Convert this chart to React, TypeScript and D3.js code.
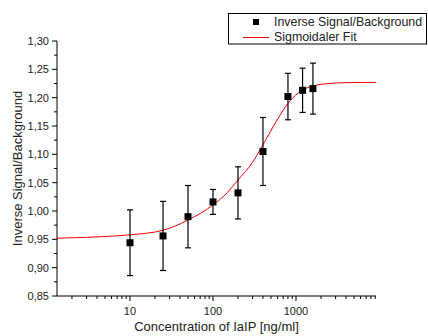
import * as d3 from "d3";

// measured points (concentration in ng/ml)
const conc = [10, 25, 50, 100, 200, 400, 800, 1200, 1600];
const signal = [0.944, 0.956, 0.990, 1.016, 1.032, 1.105, 1.202, 1.213, 1.216];
const errs = [0.058, 0.061, 0.055, 0.022, 0.046, 0.060, 0.041, 0.039, 0.045];

// sigmoidal fit
const fitX = [1.32, 3, 5, 10, 25, 50, 100, 150, 200, 300, 400, 600, 800, 1200, 1600, 2500, 4000, 9200];
const fitY = [0.952, 0.9535, 0.955, 0.958, 0.966, 0.984, 1.0106, 1.033, 1.0547, 1.086, 1.117, 1.162, 1.19, 1.2135, 1.2206, 1.225, 1.2265, 1.227];

const yTicks = [0.85, 0.9, 0.95, 1.0, 1.05, 1.1, 1.15, 1.2, 1.25, 1.3];
const xMajor = [10, 100, 1000];

const W = 428;
const H = 336;
const margin = { left: 57, right: 52, top: 41, bottom: 40 };
const font = "'Liberation Sans', Arial, sans-serif";

export default function App() {
  const x = d3.scaleLog().domain([1.32, 9200]).range([margin.left, W - margin.right]);
  const y = d3.scaleLinear().domain([0.85, 1.3]).range([H - margin.bottom, margin.top]);

  const xMinor = x.ticks().filter((t) => !xMajor.includes(t));
  const yMinor = yTicks.slice(0, -1).map((t) => t + 0.025);
  const fmt = (v: number) => d3.format(".2f")(v).replace(".", ",");

  const fitLine = d3
    .line<number>()
    .x((d) => x(d))
    .y((d, i) => y(fitY[i]))
    .curve(d3.curveMonotoneX);

  const x0 = margin.left;
  const yb = H - margin.bottom;

  return (
    <svg width={W} height={H} style={{ position: "absolute", left: 0, top: 0 }} fontFamily={font}>
      <rect width={W} height={H} fill="#fff" />

      {/* fit curve */}
      <path d={fitLine(fitX) || ""} fill="none" stroke="#ff0000" strokeWidth={1} />

      {/* error bars + points */}
      {conc.map((c, i) => {
        const cx = x(c);
        const t = y(signal[i] + errs[i]);
        const b = y(signal[i] - errs[i]);
        return (
          <g key={i} stroke="#000" strokeWidth={1.2}>
            <line x1={cx} x2={cx} y1={t} y2={b} />
            <line x1={cx - 3} x2={cx + 3} y1={t} y2={t} />
            <line x1={cx - 3} x2={cx + 3} y1={b} y2={b} />
            <rect x={cx - 3.5} y={y(signal[i]) - 3.5} width={7} height={7} fill="#000" stroke="none" />
          </g>
        );
      })}

      {/* y axis */}
      <g stroke="#000" strokeWidth={1}>
        <line x1={x0} x2={x0} y1={y(1.3)} y2={yb} />
        {yTicks.map((t) => (
          <line key={t} x1={x0 - 5} x2={x0} y1={y(t)} y2={y(t)} />
        ))}
        {yMinor.map((t) => (
          <line key={t} x1={x0 - 3} x2={x0} y1={y(t)} y2={y(t)} />
        ))}
      </g>
      {yTicks.map((t) => (
        <text key={t} x={x0 - 8} y={y(t)} dy="0.35em" textAnchor="end" fontSize={11} fill="#222">
          {fmt(t)}
        </text>
      ))}
      <text
        transform={`translate(17,${(margin.top + yb) / 2}) rotate(-90)`}
        textAnchor="middle"
        dy="0.35em"
        fontSize={13}
        fill="#222"
      >
        Inverse Signal/Background
      </text>

      {/* x axis */}
      <g stroke="#000" strokeWidth={1}>
        <line x1={x0} x2={W - margin.right} y1={yb} y2={yb} />
        {xMajor.map((t) => (
          <line key={t} x1={x(t)} x2={x(t)} y1={yb} y2={yb + 5} />
        ))}
        {xMinor.map((t) => (
          <line key={t} x1={x(t)} x2={x(t)} y1={yb} y2={yb + 3} />
        ))}
      </g>
      {xMajor.map((t) => (
        <text key={t} x={x(t)} y={yb + 19} textAnchor="middle" fontSize={11} fill="#222">
          {t}
        </text>
      ))}
      <text x={(x0 + W - margin.right) / 2} y={331} textAnchor="middle" fontSize={13} fill="#222">
        Concentration of IaIP [ng/ml]
      </text>

      {/* legend */}
      <rect x={228.5} y={13.5} width={198} height={30.5} fill="#fff" stroke="#000" strokeWidth={1} />
      <rect x={253} y={19} width={6} height={6} fill="#000" />
      <text x={274} y={22} dy="0.35em" fontSize={12.4} fill="#222">
        Inverse Signal/Background
      </text>
      <line x1={243} x2={269} y1={37.5} y2={37.5} stroke="#ff0000" strokeWidth={1} />
      <text x={274} y={36.5} dy="0.35em" fontSize={12.4} fill="#222">
        Sigmoidaler Fit
      </text>
    </svg>
  );
}
